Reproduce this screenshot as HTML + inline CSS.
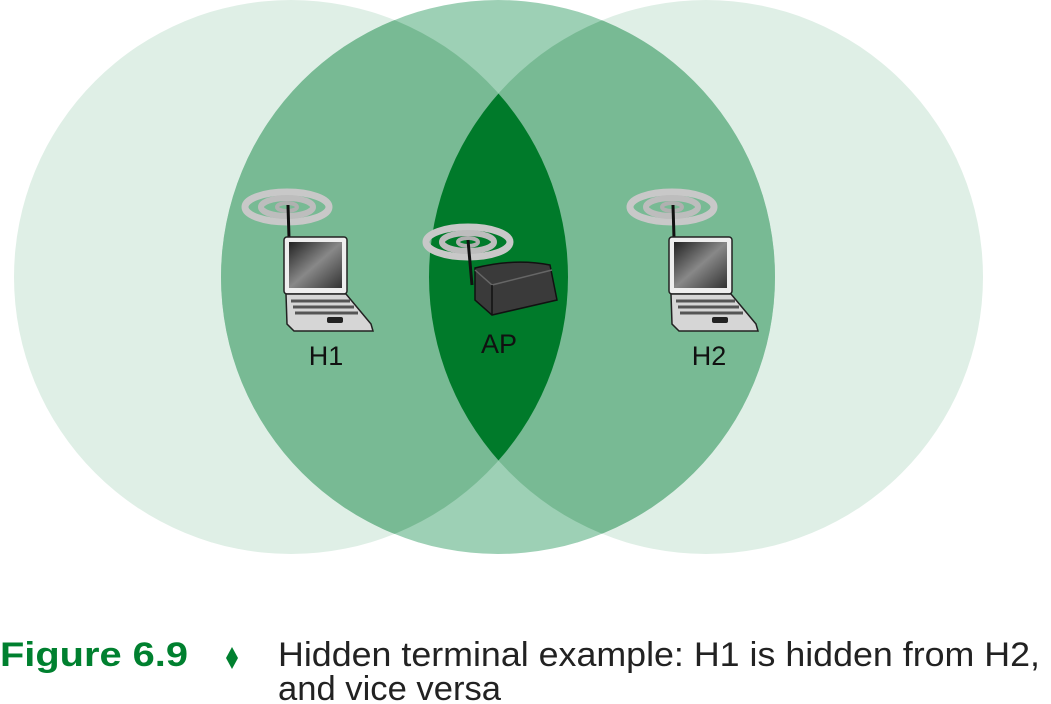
<!DOCTYPE html>
<html><head><meta charset="utf-8"><style>
html,body{margin:0;padding:0;background:#fff;width:1051px;height:704px;overflow:hidden}
</style></head><body>
<svg width="1051" height="704" viewBox="0 0 1051 704" xmlns="http://www.w3.org/2000/svg">
<defs>
<clipPath id="cl"><circle cx="291" cy="277" r="277"/></clipPath>
<clipPath id="cm"><circle cx="498" cy="277" r="277"/></clipPath>
<linearGradient id="scr" x1="0" y1="0" x2="1" y2="1">
<stop offset="0" stop-color="#222"/><stop offset="0.5" stop-color="#888"/><stop offset="1" stop-color="#333"/></linearGradient>
<g id="waves">
<ellipse cx="0" cy="0" rx="42" ry="15" fill="none" stroke="#c8c8c8" stroke-width="7"/>
<ellipse cx="0" cy="0" rx="26" ry="9" fill="none" stroke="#bdbdbd" stroke-width="6"/>
<ellipse cx="0" cy="0" rx="10" ry="4" fill="none" stroke="#b0b0b0" stroke-width="4"/>
</g>
<g id="laptop">
<use href="#waves" x="0" y="0"/>
<line x1="1" y1="-2" x2="2" y2="31" stroke="#111" stroke-width="3"/>
<rect x="-3" y="30" width="63" height="57" rx="3" fill="#eee" stroke="#222" stroke-width="1.5"/>
<rect x="2" y="35" width="53" height="46" fill="url(#scr)"/>
<path d="M-1 87 L59 87 L84 117 L86 124 L7 124 L0 117 Z" fill="#d6d6d6" stroke="#222" stroke-width="1.5"/>
<path d="M4 94 L63 94 M6 100 L67 100 M8 106 L71 106" stroke="#555" stroke-width="3"/>
<rect x="40" y="110" width="16" height="6" rx="2" fill="#222"/>
</g>
</defs>
<circle cx="291" cy="277" r="277" fill="#dfefe6"/>
<circle cx="706" cy="277" r="277" fill="#dfefe6"/>
<circle cx="498" cy="277" r="277" fill="#9dd0b5"/>
<g clip-path="url(#cm)">
<circle cx="291" cy="277" r="277" fill="#78ba94"/>
<circle cx="706" cy="277" r="277" fill="#78ba94"/>
</g>
<g clip-path="url(#cl)"><circle cx="706" cy="277" r="277" fill="#007a2a"/></g>

<use href="#laptop" x="287" y="207"/>
<use href="#laptop" x="672" y="207"/>

<use href="#waves" x="468" y="242"/>
<line x1="468" y1="240" x2="472" y2="285" stroke="#111" stroke-width="3"/>
<path d="M475 268 Q515 258 550 265 L557 300 L492 315 L475 300 Z" fill="#3a3a3a" stroke="#111" stroke-width="1.5"/>
<path d="M475 270 L492 285 L552 270" fill="none" stroke="#666" stroke-width="1.5"/>
<path d="M492 285 L492 315" stroke="#111" stroke-width="1.5"/>

<g font-family="Liberation Sans, sans-serif" font-size="27" fill="#111" text-anchor="middle">
<text x="326" y="365">H1</text>
<text x="499" y="353">AP</text>
<text x="709" y="365">H2</text>
</g>
<g font-family="Liberation Sans, sans-serif" font-size="34">
<text x="0" y="666" fill="#00802f" font-weight="bold" textLength="188" lengthAdjust="spacingAndGlyphs">Figure 6.9</text>
<path d="M232 647 L238 658 L232 669 L226 658 Z" fill="#00802f"/>
<text x="278" y="666" fill="#222" textLength="762" lengthAdjust="spacingAndGlyphs">Hidden terminal example: H1 is hidden from H2,</text>
<text x="278" y="700" fill="#222" textLength="223" lengthAdjust="spacingAndGlyphs">and vice versa</text>
</g>
</svg>
</body></html>
